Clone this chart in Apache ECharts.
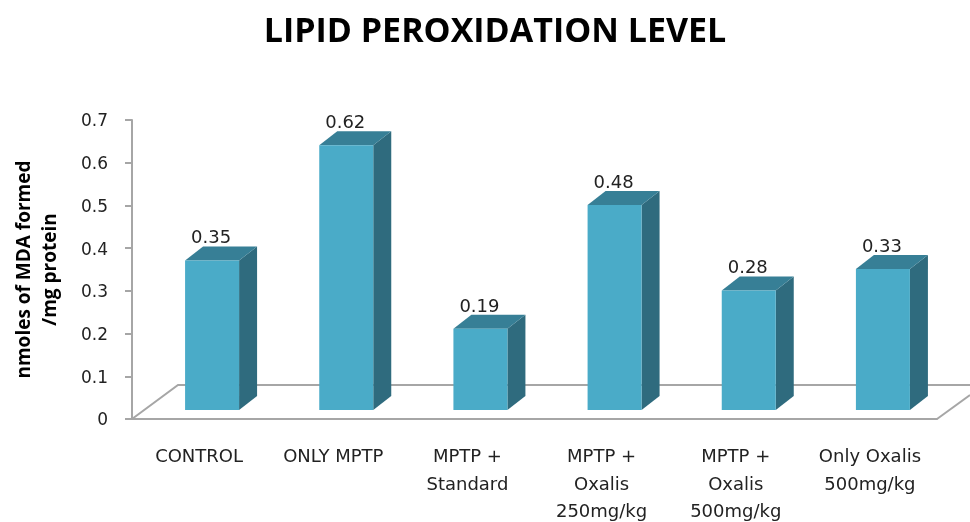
<!DOCTYPE html>
<html>
<head>
<meta charset="utf-8">
<style>
    html, body { margin: 0; padding: 0; background: #fff; }
    #main { width: 970px; height: 522px; }
</style>
<script src="https://cdn.jsdelivr.net/npm/echarts@6/dist/echarts.min.js"></script>
</head>
<body>
<div id="main"></div>
<script>
    var categories = ['CONTROL', 'ONLY MPTP', 'MPTP +\nStandard', 'MPTP +\nOxalis\n250mg/kg', 'MPTP +\nOxalis\n500mg/kg', 'Only Oxalis\n500mg/kg'];
    var lipidValues = [0.35, 0.62, 0.19, 0.48, 0.28, 0.33];
    var valueLabels = ['0.35', '0.62', '0.19', '0.48', '0.28', '0.33'];

    var textFont = 'DejaVu Sans';
    var gridColor = '#a6a6a6';

    // 3d look: bars stand on a floor, pushed back from the front edge
    var barWidth = 54, depthX = 18, depthY = 14, barShiftX = 13, barShiftY = 9;

    function renderBar(params, api) {
        var i = api.value(0);
        var top = api.coord([i, api.value(1)]);
        var base = api.coord([i, 0]);
        var l = top[0] + barShiftX - barWidth / 2, r = l + barWidth;
        var t = top[1] - barShiftY, b = base[1] - barShiftY;
        return {
            type: 'group',
            children: [
                { type: 'polygon', shape: { points: [[r, t], [r + depthX, t - depthY], [r + depthX, b - depthY], [r, b]] }, style: { fill: '#2f6b7e' } },
                { type: 'polygon', shape: { points: [[l, t], [l + depthX, t - depthY], [r + depthX, t - depthY], [r, t]] }, style: { fill: '#377f96' } },
                { type: 'rect', shape: { x: l, y: t, width: barWidth, height: b - t }, style: { fill: '#4aabc8' } },
                { type: 'text', style: { text: valueLabels[i], x: (l + r) / 2 - 1, y: t - 13, align: 'center', verticalAlign: 'bottom', font: '18px "' + textFont + '"', fill: '#222' } }
            ]
        };
    }

    function renderFloor(params) {
        var c = params.coordSys;
        var left = c.x, right = c.x + c.width, bottom = c.y + c.height;
        var backY = bottom - 34;
        var line = { stroke: gridColor, lineWidth: 2, fill: null };
        return {
            type: 'group',
            children: [
                { type: 'polyline', shape: { points: [[left, bottom], [left + 46, backY], [970, backY]] }, style: line },
                { type: 'polyline', shape: { points: [[right, bottom], [970, bottom - 24]] }, style: line }
            ]
        };
    }

    var chart = echarts.init(document.getElementById('main'));
    chart.setOption({
        backgroundColor: '#fff',
        animation: false,
        title: {
            text: 'LIPID PEROXIDATION LEVEL',
            left: 490,
            top: 10,
            textAlign: 'center',
            textStyle: { fontFamily: 'Open Sans', fontWeight: 'bold', fontSize: 34, color: '#000' }
        },
        grid: { left: 132, right: 33, top: 120, bottom: 103, outerBoundsMode: 'none' },
        xAxis: {
            type: 'category',
            data: categories,
            axisTick: { show: false },
            axisLine: { lineStyle: { color: gridColor, width: 2 } },
            axisLabel: { interval: 0, margin: 25, lineHeight: 27.5, fontFamily: textFont, fontSize: 18, color: '#222' }
        },
        yAxis: {
            type: 'value',
            min: 0,
            max: 0.7,
            interval: 0.1,
            name: 'nmoles of MDA formed\n/mg protein',
            nameLocation: 'middle',
            nameGap: 68,
            nameRotate: 90,
            nameTextStyle: { fontFamily: 'Open Sans', fontWeight: 'bold', fontSize: 19, lineHeight: 26, color: '#000' },
            splitLine: { show: false },
            axisLine: { show: true, lineStyle: { color: gridColor, width: 2 } },
            axisTick: { show: true, length: 7, lineStyle: { color: gridColor, width: 2 } },
            axisLabel: { margin: 24, verticalAlign: 'top', lineHeight: 4, fontFamily: textFont, fontSize: 17, color: '#222' }
        },
        series: [
            { type: 'custom', data: [[0, 0]], renderItem: renderFloor, silent: true, z: 1, clip: false },
            { type: 'custom', data: lipidValues.map(function (v, i) { return [i, v]; }), encode: { x: 0, y: 1 }, renderItem: renderBar, z: 2, clip: false }
        ]
    });
</script>
</body>
</html>
